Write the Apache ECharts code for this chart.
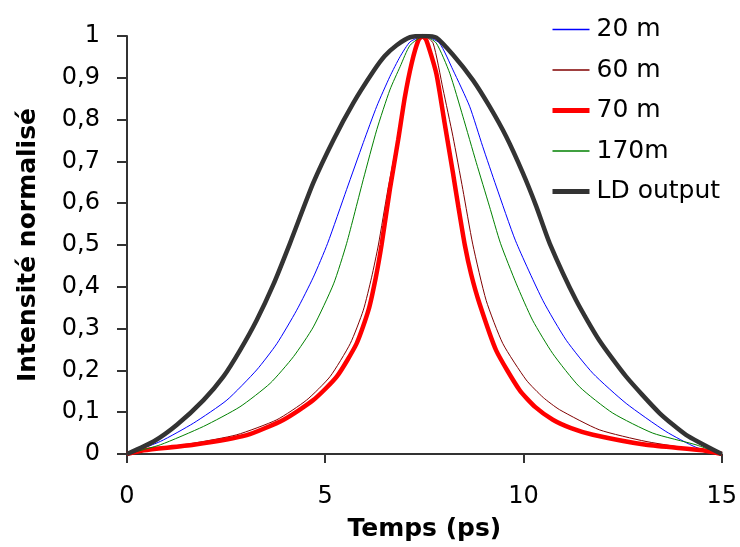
<!DOCTYPE html>
<html>
<head>
<meta charset="utf-8">
<script src="https://cdn.jsdelivr.net/npm/echarts@6/dist/echarts.min.js"></script>
<style>
html,body{margin:0;padding:0;background:#fff;}
#chart{width:740px;height:547px;}
</style>
</head>
<body>
<div id="chart"></div>
<script>
// Series names
var seriesNames = ['20 m', '60 m', '70 m', '170m', 'LD output'];

// 20 m (blue)
var x20 = [0, 0.84, 1.68, 2.52, 3.27, 3.78, 4.28, 4.70, 5.06, 5.54, 5.96, 6.30, 6.63, 6.89, 7.14, 7.5, 7.88, 8.22, 8.64, 8.97, 9.31, 9.80, 10.49, 11.08, 11.75, 12.59, 13.59, 14.35, 15];
var y20 = [0, 0.030, 0.074, 0.129, 0.201, 0.264, 0.344, 0.423, 0.504, 0.633, 0.745, 0.832, 0.903, 0.951, 0.986, 1.0, 0.983, 0.919, 0.832, 0.736, 0.641, 0.510, 0.367, 0.272, 0.193, 0.121, 0.054, 0.016, 0];

// 60 m (dark red)
var x60 = [0, 0.42, 1.68, 2.77, 3.78, 4.53, 5.12, 5.63, 5.96, 6.17, 6.34, 6.58, 6.82, 7.00, 7.17, 7.35, 7.5, 7.72, 7.97, 8.22, 8.47, 8.72, 9.06, 9.48, 10.07, 10.50, 10.91, 11.91, 13.09, 14.52, 15];
var y60 = [0, 0.009, 0.026, 0.046, 0.082, 0.129, 0.185, 0.264, 0.344, 0.423, 0.500, 0.633, 0.752, 0.855, 0.935, 0.990, 1.0, 0.983, 0.873, 0.760, 0.633, 0.502, 0.367, 0.264, 0.177, 0.135, 0.106, 0.058, 0.030, 0.008, 0];

// 70 m (red)
var x70 = [0, 0.42, 1.68, 3.02, 3.95, 4.70, 5.29, 5.79, 6.09, 6.27, 6.42, 6.63, 6.84, 7.01, 7.18, 7.35, 7.45, 7.55, 7.80, 8.01, 8.22, 8.36, 8.52, 8.68, 8.89, 9.31, 9.90, 10.30, 10.74, 11.20, 11.75, 13.09, 14.52, 15];
var y70 = [0, 0.009, 0.022, 0.045, 0.082, 0.129, 0.185, 0.264, 0.344, 0.420, 0.500, 0.633, 0.752, 0.855, 0.935, 0.990, 1.0, 0.990, 0.911, 0.792, 0.673, 0.590, 0.500, 0.430, 0.360, 0.248, 0.153, 0.112, 0.082, 0.062, 0.046, 0.022, 0.009, 0];

// 170m (green)
var x170 = [0, 0.84, 1.93, 2.85, 3.61, 4.20, 4.70, 5.21, 5.54, 5.96, 6.30, 6.63, 6.89, 7.14, 7.5, 7.80, 8.14, 8.47, 8.81, 9.14, 9.42, 9.82, 10.23, 10.74, 11.41, 12.25, 13.26, 14.35, 15];
var y170 = [0, 0.022, 0.066, 0.113, 0.169, 0.233, 0.304, 0.407, 0.504, 0.657, 0.776, 0.871, 0.927, 0.978, 1.0, 0.983, 0.911, 0.808, 0.697, 0.593, 0.504, 0.407, 0.320, 0.240, 0.161, 0.098, 0.050, 0.022, 0];

// LD output (dark grey)
var xLD = [0, 0.67, 1.26, 1.93, 2.43, 2.85, 3.27, 3.69, 4.11, 4.70, 5.21, 5.71, 6.21, 6.50, 6.80, 7.14, 7.5, 7.8, 8.22, 8.72, 9.14, 9.56, 9.98, 10.32, 10.66, 11.33, 11.91, 12.59, 13.43, 14.10, 15];
var yLD = [0, 0.030, 0.070, 0.129, 0.185, 0.248, 0.320, 0.405, 0.504, 0.649, 0.752, 0.840, 0.915, 0.952, 0.978, 0.997, 1.0, 0.996, 0.955, 0.895, 0.832, 0.760, 0.673, 0.593, 0.504, 0.367, 0.272, 0.185, 0.098, 0.046, 0];

// Axis ticks
var xTicks = [0, 5, 10, 15];
var yTicks = [0, 0.1, 0.2, 0.3, 0.4, 0.5, 0.6, 0.7, 0.8, 0.9, 1];

var xTitle = 'Temps (ps)';
var yTitle = 'Intensité normalisé';

function pairs(xs, ys) {
  return xs.map(function (x, i) { return [x, ys[i]]; });
}

var styles = [
  { color: '#0000ff', width: 1 },
  { color: '#800000', width: 1 },
  { color: '#ff0000', width: 4.5 },
  { color: '#008000', width: 1 },
  { color: '#333333', width: 4.5 }
];
var dataSets = [pairs(x20, y20), pairs(x60, y60), pairs(x70, y70), pairs(x170, y170), pairs(xLD, yLD)];

var FONT = 'DejaVu Sans';

var chart = echarts.init(document.getElementById('chart'), null, { renderer: 'canvas' });
chart.setOption({
  backgroundColor: '#ffffff',
  animation: false,
  grid: { left: 127, right: 18, top: 36, bottom: 91, containLabel: false },
  legend: {
    orient: 'vertical',
    left: 550,
    top: 17,
    padding: 0,
    itemWidth: 37,
    itemHeight: 14,
    itemGap: 15.5,
    itemStyle: { opacity: 0, borderWidth: 0 },
    data: seriesNames.map(function (n, i) {
      return { name: n, lineStyle: { color: styles[i].color, width: styles[i].width > 2 ? 5 : 1.3 } };
    }),
    textStyle: { fontFamily: FONT, fontSize: 25, color: '#000', padding: [0, 0, 0, 2] }
  },
  xAxis: {
    type: 'value',
    min: xTicks[0],
    max: xTicks[xTicks.length - 1],
    interval: 5,
    name: xTitle,
    nameLocation: 'middle',
    nameGap: 63,
    nameTextStyle: { fontFamily: FONT, fontSize: 25, fontWeight: 'bold', color: '#000' },
    axisLine: { lineStyle: { color: '#333', width: 2 } },
    axisTick: { show: true, inside: false, length: 9, lineStyle: { color: '#333', width: 2 } },
    axisLabel: { margin: 31, fontFamily: FONT, fontSize: 24, color: '#000' },
    splitLine: { show: false }
  },
  yAxis: {
    type: 'value',
    min: yTicks[0],
    max: yTicks[yTicks.length - 1],
    interval: 0.1,
    name: yTitle,
    nameLocation: 'middle',
    nameGap: 86,
    nameTextStyle: { fontFamily: FONT, fontSize: 25, fontWeight: 'bold', color: '#000' },
    axisLine: { show: true, lineStyle: { color: '#333', width: 2 } },
    axisTick: { show: true, inside: false, length: 10, lineStyle: { color: '#333', width: 2 } },
    axisLabel: {
      margin: 27, fontFamily: FONT, fontSize: 24, color: '#000',
      formatter: function (v) { return String(Math.round(v * 10) / 10).replace('.', ','); }
    },
    splitLine: { show: false }
  },
  series: seriesNames.map(function (name, i) {
    return {
      name: name,
      type: 'line',
      data: dataSets[i],
      symbol: 'none',
      smooth: 0.2,
      lineStyle: { color: styles[i].color, width: styles[i].width },
      itemStyle: { color: styles[i].color }
    };
  })
});
</script>
</body>
</html>
